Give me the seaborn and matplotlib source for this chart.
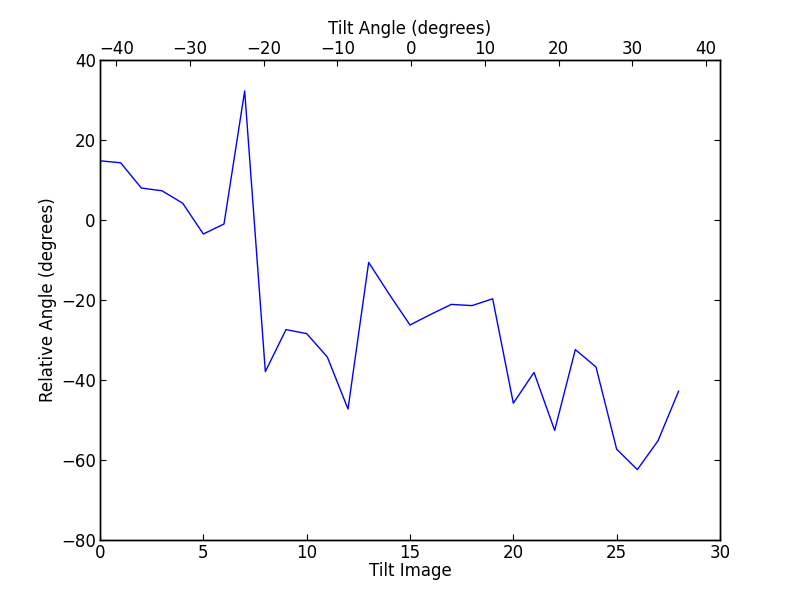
import numpy as np
import pandas as pd
import matplotlib
matplotlib.use("Agg")
import matplotlib.pyplot as plt
import seaborn as sns

# values
tilt_image = list(range(29))
relative_angle = [14.8, 14.3, 8.0, 7.3, 4.2, -3.5, -1.0, 32.25,
                  -37.9, -27.4, -28.4, -34.25, -47.25, -10.6, -18.6, -26.25,
                  -23.6, -21.1, -21.4, -19.7, -45.8, -38.1, -52.6, -32.4,
                  -36.75, -57.3, -62.4, -55.2, -42.75]
tilt_angle_limits = (-42.2, 41.9)

df = pd.DataFrame({"image": tilt_image, "angle": relative_angle})

sns.set_style("white")
plt.rcParams["font.family"] = ["DejaVu Sans"]
plt.rcParams["font.size"] = 12
plt.rcParams["text.color"] = "black"
plt.rcParams["axes.labelcolor"] = "black"
plt.rcParams["xtick.color"] = "black"
plt.rcParams["ytick.color"] = "black"
plt.rcParams["xtick.direction"] = "in"
plt.rcParams["ytick.direction"] = "in"

fig = plt.figure(figsize=(8, 6), dpi=100)
ax = fig.add_axes([0.125, 0.1, 0.775, 0.8])

sns.lineplot(data=df, x="image", y="angle", color="b", linewidth=1, ax=ax)
ax.set_xlim(0, 30)
ax.set_ylim(-80, 40)
ax.set_xticks(np.arange(0, 31, 5))
ax.set_yticks(np.arange(-80, 41, 20))
ax.set_xlabel("Tilt Image", fontsize=12, labelpad=0)
ax.set_ylabel("Relative Angle (degrees)", fontsize=12, labelpad=3)
ax.tick_params(axis="both", labelsize=12, length=4, width=0.8, pad=3,
               left=True, right=True, bottom=True, top=False)

# top axis for the tilt angles
ax2 = ax.twiny()
ax2.set_xlim(*tilt_angle_limits)
ax2.set_xticks(np.arange(-40, 41, 10))
ax2.set_xlabel("Tilt Angle (degrees)", fontsize=12, labelpad=4)
ax2.tick_params(axis="x", labelsize=12, length=4, width=0.8, pad=1.5,
                direction="in", top=True, bottom=False)

for a in (ax, ax2):
    for s in a.spines.values():
        s.set_color("black")
        s.set_linewidth(1)

fig.savefig("out.png", dpi=100, facecolor="white")
